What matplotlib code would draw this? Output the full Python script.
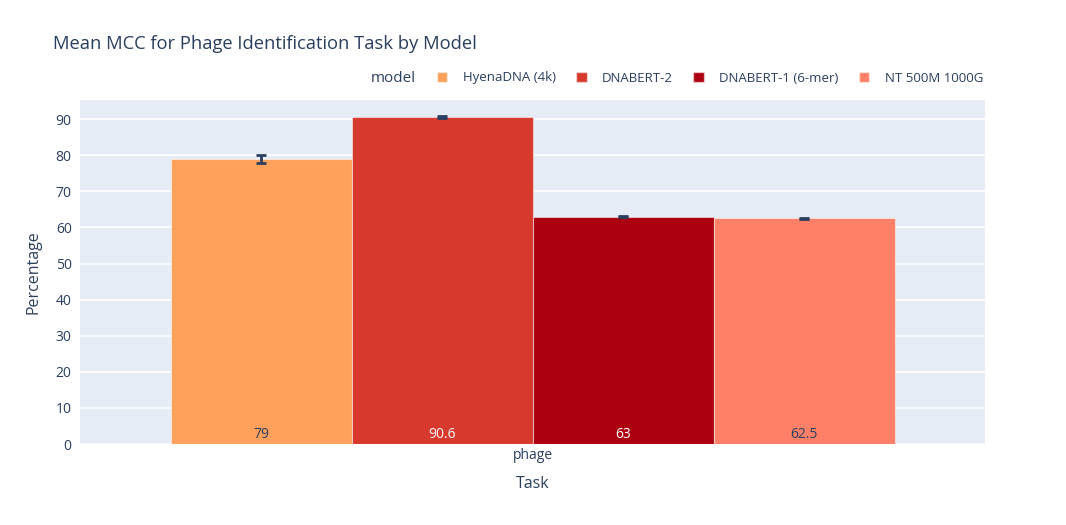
import matplotlib
matplotlib.use("Agg")
import matplotlib.pyplot as plt
from matplotlib.patches import Patch

models = ["HyenaDNA (4k)", "DNABERT-2", "DNABERT-1 (6-mer)", "NT 500M 1000G"]
values = [79.0, 90.6, 63.0, 62.5]
errors = [1.1, 0.3, 0.2, 0.2]
labels = ["79", "90.6", "63", "62.5"]
colors = ["#FFA15A", "#D73A2D", "#AC0010", "#FF8066"]
text_colors = ["#2a3f5f", "white", "white", "#2a3f5f"]
category = "phage"

plt.rcParams['font.family'] = ['Open Sans', 'DejaVu Sans']
fig = plt.figure(figsize=(10.66, 5.25), dpi=100)
ax = fig.add_axes([80/1066, 81/525, 905/1066, 344/525])
ax.set_facecolor("#E5ECF6")
for s in ax.spines.values():
    s.set_visible(False)

n = len(models)
w = 0.8 / n
for i, (m, v, e, c) in enumerate(zip(models, values, errors, colors)):
    x = -0.4 + w * (i + 0.5)
    ax.bar(x, v, width=w, color=c, edgecolor=(1, 1, 1, 0.5), linewidth=0.8, zorder=2)
    ax.errorbar(x, v, yerr=e, color="#2a3f5f", capsize=3.5, elinewidth=2, capthick=2, zorder=3)
    ax.annotate(labels[i], (x, 0), xytext=(0, 6.5), textcoords="offset points",
                ha="center", va="center", fontsize=10, color=text_colors[i], zorder=4)

ax.set_xlim(-0.5, 0.5)
ax.set_ylim(0, 95.3)
ax.set_yticks(range(0, 91, 10))
ax.set_xticks([0])
ax.set_xticklabels([category])
ax.yaxis.grid(True, color="white", linewidth=1.2, zorder=0)
ax.set_axisbelow(True)
ax.tick_params(axis="y", length=0, labelsize=10, labelcolor="#2a3f5f", pad=6)
ax.tick_params(axis="x", length=0, labelsize=10, labelcolor="#2a3f5f", pad=3)
ax.set_ylabel("Percentage", fontsize=11.5, color="#2a3f5f", labelpad=10)
ax.set_xlabel("Task", fontsize=11.5, color="#2a3f5f", labelpad=9)

fig.text(53/1066, 1 - 44/525, "Mean MCC for Phage Identification Task by Model",
         fontsize=13.2, color="#2a3f5f", va="center", ha="left")
fig.text(371/1066, 1 - 78/525, "model", fontsize=11, color="#2a3f5f", va="center", ha="left")
handles = [Patch(facecolor=c, edgecolor=(1, 1, 1, 0.5), label=m) for m, c in zip(models, colors)]
leg = fig.legend(handles=handles, loc="center left", bbox_to_anchor=(425/1066, 1 - 78/525),
                 ncol=4, frameon=False, fontsize=9.5, handlelength=0.8, handleheight=0.8,
                 handletextpad=1.15, columnspacing=1.55, labelcolor="#2a3f5f")
fig.savefig("out.png", dpi=100, facecolor="white")
